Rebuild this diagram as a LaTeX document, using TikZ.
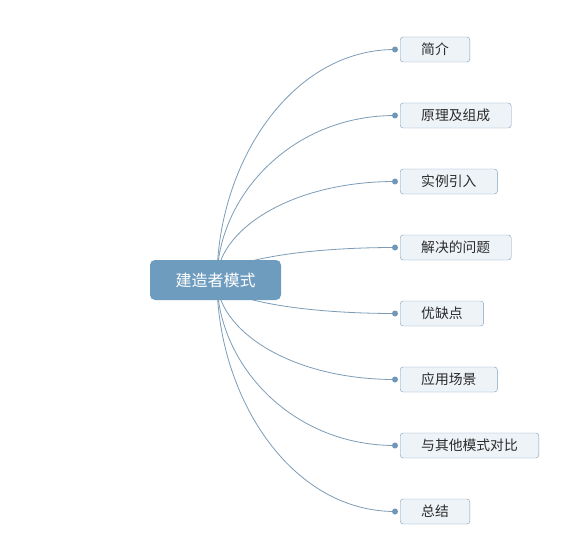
\documentclass[tikz,border=0pt]{standalone}
\usepackage{fontspec}
\newfontfamily\cjk{Noto Sans CJK SC}
\usetikzlibrary{calc,positioning,backgrounds}

\definecolor{rootblue}{HTML}{6E9CBE}
\definecolor{boxfill}{HTML}{EEF3F8}
\definecolor{boxline}{HTML}{819FBB}
\definecolor{linkblue}{HTML}{7C9CB7}
\definecolor{knotblue}{HTML}{7097B7}
\definecolor{labelgray}{HTML}{2B2B2B}

\begin{document}
\begin{tikzpicture}[x=1pt,y=-1pt,
  topic/.style={rectangle,rounded corners=5pt,fill=rootblue,text=white,
    font=\cjk\fontsize{16}{18}\selectfont,inner xsep=25.5pt,minimum height=40pt},
  branch/.style={rectangle,rounded corners=3pt,draw=boxline,fill=boxfill,text=labelgray,
    font=\cjk\fontsize{13.8}{15}\selectfont,inner xsep=21pt,minimum height=25pt,anchor=west},
  link/.style={linkblue,line width=0.8pt},
  knot/.style={circle,fill=knotblue,inner sep=0pt,minimum size=6pt}]

% Frame
\useasboundingbox (0,0) rectangle (571,551);

% Nodes
\node[topic] (builder) at (215.5,280) {建造者模式};
\node[branch] (intro) at (400,49.5) {简介};
\node[branch] (principle) at (400,115.5) {原理及组成};
\node[branch] (example) at (400,181.5) {实例引入};
\node[branch] (problem) at (400,247.5) {解决的问题};
\node[branch] (proscons) at (400,313.5) {优缺点};
\node[branch] (usage) at (400,379.5) {应用场景};
\node[branch] (compare) at (400,445.5) {与其他模式对比};
\node[branch] (summary) at (400,511.5) {总结};

% The knots
\foreach \b in {intro,principle,example,problem,proscons,usage,compare,summary}
  \node[knot] (\b-knot) at ($(\b.west)+(-5,0)$) {};

% The links
\coordinate (hub) at (217,280);
\coordinate (fork) at (290,0);
\begin{scope}[on background layer]
\fill[white] (0,0) rectangle (571,551);
\foreach \b in {intro,principle,example,problem,proscons,usage,compare,summary}
  \draw[link] (hub) .. controls ($(hub)!0.5!(hub |- \b-knot)$) and (\b-knot -| fork) .. (\b-knot.center);
\end{scope}

\end{tikzpicture}
\end{document}
